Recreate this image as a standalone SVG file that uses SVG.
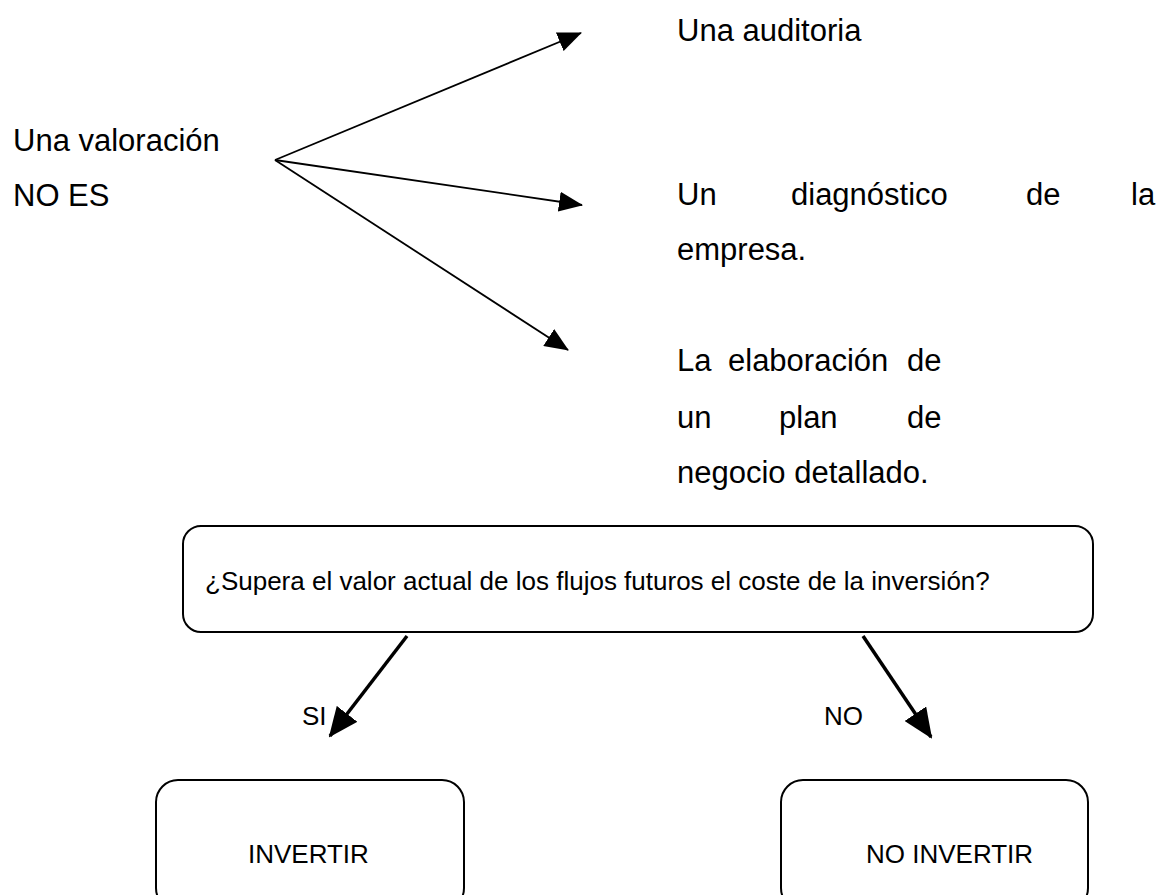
<svg xmlns="http://www.w3.org/2000/svg" width="1158" height="895" viewBox="0 0 1158 895">
<style>
text{font-family:"Liberation Sans",Arial,sans-serif;fill:#000}
.big{font-size:31px}
.sm{font-size:26px}
.thin{stroke:#000;stroke-width:1.8;fill:none}
.thick{stroke:#000;stroke-width:3.5;fill:none}
.box{fill:#fff;stroke:#000;stroke-width:2}
</style>
<defs>
<marker id="ah" viewBox="0 0 24 20" refX="23" refY="10" markerUnits="userSpaceOnUse" markerWidth="24" markerHeight="20" orient="auto"><path d="M0,0 L24,10 L0,20 z" fill="#000"/></marker>
<marker id="ahb" viewBox="0 0 30 26" refX="28" refY="13" markerUnits="userSpaceOnUse" markerWidth="30" markerHeight="26" orient="auto"><path d="M0,0 L30,13 L0,26 z" fill="#000"/></marker>
</defs>
<g id="n-valoracion"><text class="big" x="13" y="151">Una valoración</text><text class="big" x="13" y="206">NO ES</text></g>
<g id="n-auditoria"><text class="big" x="677" y="41">Una auditoria</text></g>
<g id="n-diagnostico"><text class="big" y="205"><tspan x="677">Un</tspan><tspan x="791">diagnóstico</tspan><tspan x="1026">de</tspan><tspan x="1131">la</tspan></text><text class="big" x="677" y="260">empresa.</text></g>
<g id="n-plan"><text class="big" y="371"><tspan x="677">La</tspan><tspan x="728">elaboración</tspan><tspan x="907">de</tspan></text><text class="big" y="428"><tspan x="677">un</tspan><tspan x="779">plan</tspan><tspan x="907">de</tspan></text><text class="big" x="677" y="483">negocio detallado.</text></g>
<g id="n-pregunta"><rect class="box" x="183" y="526" width="910" height="106" rx="18"/><text class="sm" x="205" y="590">¿Supera el valor actual de los flujos futuros el coste de la inversión?</text></g>
<g id="n-invertir"><rect class="box" x="156" y="780" width="308" height="130" rx="22"/><text class="sm" x="248" y="863">INVERTIR</text></g>
<g id="n-noinvertir"><rect class="box" x="781" y="780" width="307" height="130" rx="22"/><text class="sm" x="866" y="863">NO INVERTIR</text></g>
<g id="connectors">
<line class="thin" x1="275" y1="160" x2="581" y2="33" marker-end="url(#ah)"/>
<line class="thin" x1="275" y1="160" x2="582" y2="205" marker-end="url(#ah)"/>
<line class="thin" x1="275" y1="160" x2="568" y2="350" marker-end="url(#ah)"/>
<line class="thick" x1="407" y1="636" x2="330" y2="736" marker-end="url(#ahb)"/>
<line class="thick" x1="863" y1="636" x2="931" y2="737" marker-end="url(#ahb)"/>
<text class="sm" x="302" y="725">SI</text>
<text class="sm" x="824" y="725">NO</text>
</g>
</svg>
